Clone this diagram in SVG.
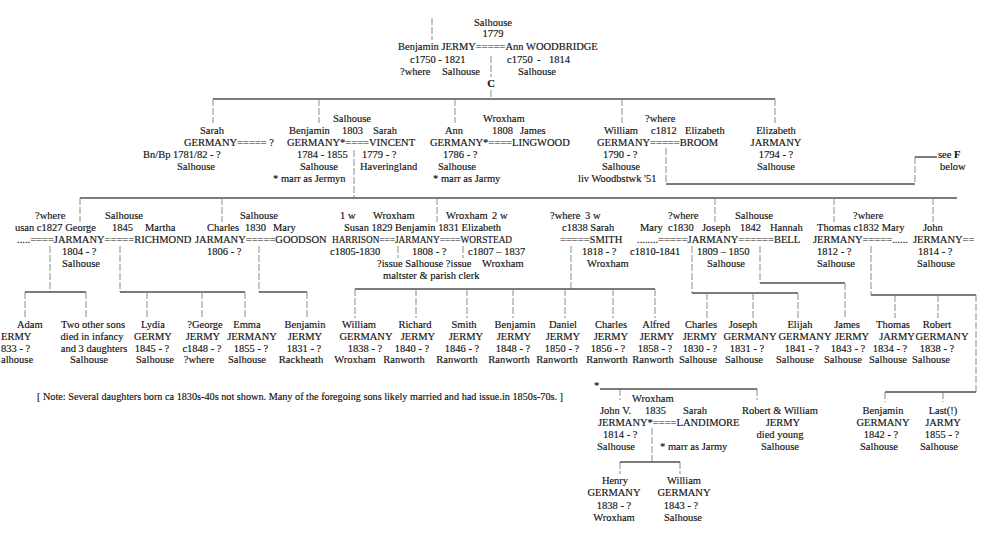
<svg xmlns="http://www.w3.org/2000/svg" width="984" height="536" viewBox="0 0 984 536">
<style>
text{font-family:"Liberation Serif","Times New Roman",serif;font-size:10.5px;fill:#111;stroke:#111;stroke-width:0.15}
.m{text-anchor:middle}
.e{text-anchor:end}
.b{font-weight:bold}
.n{font-size:10px}
.h{stroke:#505050;stroke-width:1.4;fill:none}
.v{stroke:#8a8a8a;stroke-width:1;fill:none;stroke-dasharray:7 2}
</style>
<rect width="984" height="536" fill="#fff"/>
<g id="connectors">
<path class="v" d="M432 18V40 M491 56V77 M491 90V99"/>
<path class="h" d="M213 99H775"/>
<path class="v" d="M213 99V123 M319 99V123 M455 99V123 M622 99V123 M775 99V123"/>
<path class="v" d="M354 150V198"/>
<path class="h" d="M80 198H957"/>
<path class="v" d="M80 198V222 M222 198V222 M437 198V222 M715 198V222 M834 198V222 M933 198V222"/>
<path class="v" d="M666 148V184 M915 157V184"/>
<path class="h" d="M666 184H915 M915 157H937"/>
<path class="v" d="M50 246V292 M120 246V292 M259 246V292 M398 246V258 M463 246V258 M571 246V289 M692 246V293 M760 246V283 M871 246V295"/>
<path class="h" d="M25 292H86 M120 292H245 M259 292H307 M355 289H655 M692 293H798 M760 283H845 M871 295H976"/>
<path class="v" d="M25 292V318 M86 292V318 M147 292V318 M202 292V318 M245 292V318 M307 292V318 M355 289V318 M416 289V318 M467 289V318 M513 289V318 M565 289V318 M613 289V318 M655 289V318 M707 293V318 M753 293V318 M798 293V318 M845 283V318 M895 295V318 M938 295V318"/>
<path class="v" d="M976 295V392 M885 392V402 M943 392V402 M620 389V400 M757 389V400 M652 428V462 M620 462V474 M680 462V474"/>
<path class="h" d="M885 392H976 M600 389H757 M620 462H680"/>
</g>

<g id="n-benjamin-jermy-ann-woodbridge">
<text class="m" x="493" y="26">Salhouse</text>
<text class="m" x="493" y="37">1779</text>
<text x="398" y="50">Benjamin JERMY=====Ann WOODBRIDGE</text>
<text x="410" y="63">c1750 - 1821</text>
<text x="507" y="63">c1750<tspan x="537">-</tspan><tspan x="549">1814</tspan></text>
<text x="400" y="75">?where</text>
<text x="442" y="75">Salhouse</text>
<text x="518" y="75">Salhouse</text>
<text class="m b" x="491" y="87">C</text>
</g>

<g id="n-sarah-germany">
<text x="200" y="134">Sarah</text>
<text x="184" y="146">GERMANY===== ?</text>
<text x="143" y="158">Bn/Bp 1781/82<tspan x="210">- ?</tspan></text>
<text x="177" y="170">Salhouse</text>
</g>

<g id="n-benjamin-germany-sarah-vincent">
<text x="333" y="122">Salhouse</text>
<text x="289" y="134">Benjamin<tspan x="342">1803</tspan><tspan x="373">Sarah</tspan></text>
<text x="287" y="146">GERMANY*====VINCENT</text>
<text x="297" y="158">1784 - 1855</text>
<text x="362" y="158">1779 - ?</text>
<text x="300" y="170">Salhouse</text>
<text x="360" y="170">Haveringland</text>
<text x="273" y="182">* marr as Jermyn</text>
</g>

<g id="n-ann-germany-james-lingwood">
<text x="483" y="122">Wroxham</text>
<text x="445" y="134">Ann</text>
<text x="492" y="134">1808</text>
<text x="520" y="134">James</text>
<text x="430" y="146">GERMANY*====LINGWOOD</text>
<text x="443" y="158">1786 - ?</text>
<text x="438" y="170">Salhouse</text>
<text x="433" y="182">* marr as Jarmy</text>
</g>

<g id="n-william-germany-elizabeth-broom">
<text x="645" y="122">?where</text>
<text x="604" y="134">William</text>
<text x="651" y="134">c1812</text>
<text x="685" y="134">Elizabeth</text>
<text x="597" y="146">GERMANY=====BROOM</text>
<text x="603" y="158">1790 - ?</text>
<text x="602" y="170">Salhouse</text>
<text x="578" y="182">liv Woodbstwk '51</text>
</g>

<g id="n-elizabeth-jarmany">
<text class="m" x="776" y="134">Elizabeth</text>
<text class="m" x="776" y="146">JARMANY</text>
<text class="m" x="776" y="158">1794 - ?</text>
<text class="m" x="776" y="170">Salhouse</text>
</g>

<g id="n-see-f">
<text x="938" y="158">see <tspan class="b">F</tspan></text>
<text x="940" y="170">below</text>
</g>

<g id="n-george-jarmany">
<text x="35" y="219">?where</text>
<text x="105" y="219">Salhouse</text>
<text x="15" y="231">usan c1827 George</text>
<text x="112" y="231">1845</text>
<text x="145" y="231">Martha</text>
<text x="17" y="243">.....====JARMANY=====RICHMOND</text>
<text x="62" y="255">1804 - ?</text>
<text x="62" y="267">Salhouse</text>
</g>

<g id="n-charles-jarmany">
<text x="240" y="219">Salhouse</text>
<text x="207" y="231">Charles</text>
<text x="245" y="231">1830</text>
<text x="273" y="231">Mary</text>
<text x="195" y="243">JARMANY=====GOODSON</text>
<text x="207" y="255">1806 - ?</text>
</g>

<g id="n-benjamin-jarmany">
<text x="340" y="219">1 w</text>
<text x="373" y="219">Wroxham</text>
<text x="446" y="219">Wroxham</text>
<text x="492" y="219">2 w</text>
<text x="344" y="231" textLength="157" lengthAdjust="spacingAndGlyphs">Susan 1829 Benjamin 1831 Elizabeth</text>
<text x="332" y="243" textLength="180" lengthAdjust="spacingAndGlyphs">HARRISON===JARMANY====WORSTEAD</text>
<text x="330" y="255">c1805-1830</text>
<text x="412" y="255">1808 - ?</text>
<text x="468" y="255">c1807 – 1837</text>
<text x="377" y="267">?issue Salhouse ?issue<tspan x="482">Wroxham</tspan></text>
<text x="383" y="279">maltster &amp; parish clerk</text>
</g>

<g id="n-sarah-smith">
<text x="550" y="219">?where<tspan x="585">3 w</tspan></text>
<text x="562" y="231">c1838 Sarah</text>
<text x="560" y="243">=====SMITH</text>
<text x="582" y="255">1818 - ?</text>
<text x="587" y="267">Wroxham</text>
</g>

<g id="n-joseph-jarmany">
<text x="640" y="231">Mary</text>
<text x="637" y="243">........=====JARMANY======BELL</text>
<text x="630" y="255">c1810-1841</text>
<text x="668" y="219">?where</text>
<text x="735" y="219">Salhouse</text>
<text x="668" y="231">c1830</text>
<text x="702" y="231">Joseph</text>
<text x="740" y="231">1842</text>
<text x="770" y="231">Hannah</text>
<text x="697" y="255">1809 – 1850</text>
<text x="707" y="267">Salhouse</text>
</g>

<g id="n-thomas-jermany">
<text x="853" y="219">?where</text>
<text x="817" y="231">Thomas c1832 Mary</text>
<text x="813" y="243">JERMANY=====......</text>
<text x="817" y="255">1812 - ?</text>
<text x="817" y="267">Salhouse</text>
</g>

<g id="n-john-jermany">
<text x="923" y="231">John</text>
<text x="913" y="243">JERMANY==</text>
<text x="918" y="255">1814 - ?</text>
<text x="917" y="267">Salhouse</text>
</g>

<g id="n-adam-jermy">
<text x="17" y="328">Adam</text>
<text x="1" y="340">ERMY</text>
<text x="1" y="351.5">833 - ?</text>
<text x="1" y="363">alhouse</text>
</g>
<g id="n-two-other-sons">
<text class="m" x="93" y="328">Two other sons</text>
<text class="m" x="92" y="340">died in infancy</text>
<text class="m" x="94" y="351.5">and 3 daughters</text>
<text class="m" x="89" y="363">Salhouse</text>
</g>
<g id="n-lydia-germy">
<text class="m" x="153" y="328">Lydia</text>
<text class="m" x="153" y="340">GERMY</text>
<text class="m" x="152" y="351.5">1845 - ?</text>
<text class="m" x="155" y="363">Salhouse</text>
</g>
<g id="n-george-jermy">
<text class="m" x="205" y="328">?George</text>
<text class="m" x="203" y="340">JERMY</text>
<text class="m" x="202" y="351.5">c1848 - ?</text>
<text class="m" x="199" y="363">?where</text>
</g>
<g id="n-emma-jermany">
<text class="m" x="247" y="328">Emma</text>
<text class="m" x="252" y="340">JERMANY</text>
<text class="m" x="251" y="351.5">1855 - ?</text>
<text class="m" x="247" y="363">Salhouse</text>
</g>
<g id="n-benjamin-jermy-rackheath">
<text class="m" x="305" y="328">Benjamin</text>
<text class="m" x="305" y="340">JERMY</text>
<text class="m" x="304" y="351.5">1831 - ?</text>
<text class="m" x="301" y="363">Rackheath</text>
</g>
<g id="n-william-germany-1838">
<text class="m" x="359" y="328">William</text>
<text class="m" x="366" y="340">GERMANY</text>
<text class="m" x="365" y="351.5">1838 - ?</text>
<text class="m" x="355" y="363">Wroxham</text>
</g>
<g id="n-richard-jermy">
<text class="m" x="415" y="328">Richard</text>
<text class="m" x="418" y="340">JERMY</text>
<text class="m" x="412" y="351.5">1840 - ?</text>
<text class="m" x="404" y="363">Ranworth</text>
</g>
<g id="n-smith-jermy">
<text class="m" x="464" y="328">Smith</text>
<text class="m" x="466" y="340">JERMY</text>
<text class="m" x="462" y="351.5">1846 - ?</text>
<text class="m" x="457" y="363">Ranworth</text>
</g>
<g id="n-benjamin-jermy-1848">
<text class="m" x="515" y="328">Benjamin</text>
<text class="m" x="514" y="340">JERMY</text>
<text class="m" x="513" y="351.5">1848 - ?</text>
<text class="m" x="509" y="363">Ranworth</text>
</g>
<g id="n-daniel-jermy">
<text class="m" x="563" y="328">Daniel</text>
<text class="m" x="563" y="340">JERMY</text>
<text class="m" x="562" y="351.5">1850 - ?</text>
<text class="m" x="557" y="363">Ranworth</text>
</g>
<g id="n-charles-jermy-1856">
<text class="m" x="611" y="328">Charles</text>
<text class="m" x="611" y="340">JERMY</text>
<text class="m" x="608" y="351.5">1856 - ?</text>
<text class="m" x="607" y="363">Ranworth</text>
</g>
<g id="n-alfred-jermy">
<text class="m" x="656" y="328">Alfred</text>
<text class="m" x="657" y="340">JERMY</text>
<text class="m" x="655" y="351.5">1858 - ?</text>
<text class="m" x="653" y="363">Ranworth</text>
</g>
<g id="n-charles-jermy-1830">
<text class="m" x="701" y="328">Charles</text>
<text class="m" x="700" y="340">JERMY</text>
<text class="m" x="700" y="351.5">1830 - ?</text>
<text class="m" x="698" y="363">Salhouse</text>
</g>
<g id="n-joseph-germany">
<text class="m" x="743" y="328">Joseph</text>
<text class="m" x="750" y="340">GERMANY</text>
<text class="m" x="747" y="351.5">1831 - ?</text>
<text class="m" x="744" y="363">Salhouse</text>
</g>
<g id="n-elijah-germany">
<text class="m" x="800" y="328">Elijah</text>
<text class="m" x="805" y="340">GERMANY</text>
<text class="m" x="802" y="351.5">1841 - ?</text>
<text class="m" x="795" y="363">Salhouse</text>
</g>
<g id="n-james-jermy">
<text class="m" x="847" y="328">James</text>
<text class="m" x="852" y="340">JERMY</text>
<text class="m" x="848" y="351.5">1843 - ?</text>
<text class="m" x="843" y="363">Salhouse</text>
</g>
<g id="n-thomas-jarmy">
<text class="m" x="893" y="328">Thomas</text>
<text class="m" x="897" y="340">JARMY</text>
<text class="m" x="890" y="351.5">1834 - ?</text>
<text class="m" x="888" y="363">Salhouse</text>
</g>
<g id="n-robert-germany">
<text class="m" x="937" y="328">Robert</text>
<text class="m" x="942" y="340">GERMANY</text>
<text class="m" x="937" y="351.5">1838 - ?</text>
<text class="m" x="931" y="363">Salhouse</text>
</g>

<g id="n-note">
<text class="n" x="37" y="400" textLength="526" lengthAdjust="spacingAndGlyphs">[ Note: Several daughters born ca 1830s-40s not shown.  Many of the foregoing sons likely married and had issue.in 1850s-70s. ]</text>
</g>

<g id="n-john-v-jermany">
<text x="594" y="389">*</text>
<text x="632" y="401.5">Wroxham</text>
<text x="600" y="413.5">John V.</text>
<text x="645" y="413.5">1835</text>
<text x="683" y="413.5">Sarah</text>
<text x="598" y="425.5">JERMANY*====LANDIMORE</text>
<text x="603" y="437.5">1814 - ?</text>
<text x="597" y="449.5">Salhouse</text>
<text x="660" y="449.5">* marr as Jarmy</text>
</g>
<g id="n-robert-william-jermy">
<text class="m" x="780" y="413.5">Robert &amp; William</text>
<text class="m" x="783" y="425.5">JERMY</text>
<text class="m" x="780" y="437.5">died young</text>
<text class="m" x="780" y="449.5">Salhouse</text>
</g>
<g id="n-benjamin-germany-1842">
<text class="m" x="883" y="413.5">Benjamin</text>
<text class="m" x="883" y="425.5">GERMANY</text>
<text class="m" x="881" y="437.5">1842  - ?</text>
<text class="m" x="879" y="449.5">Salhouse</text>
</g>
<g id="n-last-jarmy">
<text class="m" x="943" y="413.5">Last(!)</text>
<text class="m" x="943" y="425.5">JARMY</text>
<text class="m" x="942" y="437.5">1855 - ?</text>
<text class="m" x="939" y="449.5">Salhouse</text>
</g>
<g id="n-henry-germany">
<text class="m" x="615" y="483.5">Henry</text>
<text class="m" x="614" y="496">GERMANY</text>
<text class="m" x="614" y="508.5">1838 - ?</text>
<text class="m" x="614" y="520.5">Wroxham</text>
</g>
<g id="n-william-germany-1843">
<text class="m" x="684" y="483.5">William</text>
<text class="m" x="684" y="496">GERMANY</text>
<text class="m" x="681" y="508.5">1843 - ?</text>
<text class="m" x="683" y="520.5">Salhouse</text>
</g>
</svg>
